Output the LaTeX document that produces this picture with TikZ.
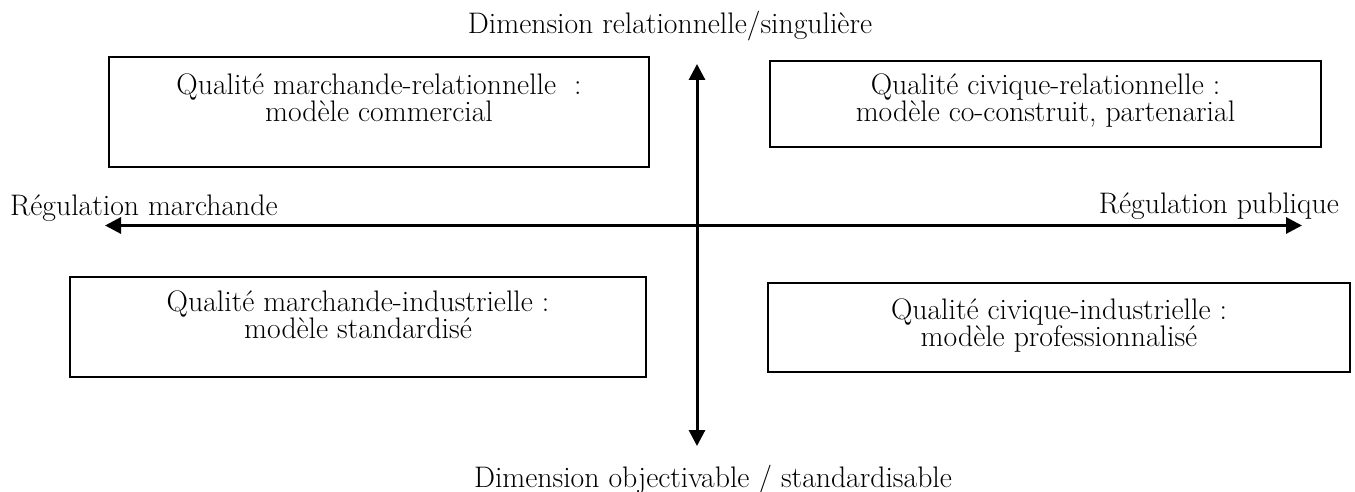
\documentclass[tikz,border=0pt]{standalone}
\usetikzlibrary{positioning,arrows.meta}

\tikzset{
  txt/.style={font=\fontsize{29.7}{26}\selectfont, inner sep=0pt},
  quadrant/.style={draw, line width=1.3pt, inner sep=0pt},
  quadtext/.style={txt, align=center},
  axis/.style={line width=3pt, {Triangle[length=16pt,width=16pt]}-{Triangle[length=16pt,width=16pt]}}
}

\begin{document}
\begin{tikzpicture}[x=1pt,y=-1pt]
\useasboundingbox (0,0) rectangle (1355,492);
% axes
\coordinate (top) at (697,64);
\coordinate (bottom) at (697,446);
\coordinate (left) at (105,225.5);
\coordinate (right) at (1302,225.5);
\draw[axis] (bottom) -- (top);
\draw[axis] (left) -- (right);
\node[txt, anchor=base] (relat) at (670,34) {Dimension relationnelle/singulière};
\node[txt, anchor=base] (objec) at (713,487) {Dimension objectivable / standardisable};
\node[txt, anchor=base west] (march) at (10,215) {Régulation marchande};
\node[txt, anchor=base east] (publ) at (1339,213) {Régulation publique};
% quadrants
\node[quadrant, minimum width=540pt, minimum height=110pt] (marchrel) at (379,112) {};
\node[quadtext, below=17pt of marchrel.north] (marchrel-t) {Qualité marchande-relationnelle~~:\\modèle commercial};
\node[quadrant, minimum width=551pt, minimum height=86pt] (civrel) at (1045.5,104) {};
\node[quadtext, below=13pt of civrel.north] (civrel-t) {Qualité civique-relationnelle :\\modèle co-construit, partenarial};
\node[quadrant, minimum width=576pt, minimum height=100pt] (marchind) at (358,327) {};
\node[quadtext, below=14pt of marchind.north] (marchind-t) {Qualité marchande-industrielle :\\modèle standardisé};
\node[quadrant, minimum width=582pt, minimum height=89pt] (civind) at (1059,327.5) {};
\node[quadtext, below=16pt of civind.north] (civind-t) {Qualité civique-industrielle :\\modèle professionnalisé};
\end{tikzpicture}
\end{document}
